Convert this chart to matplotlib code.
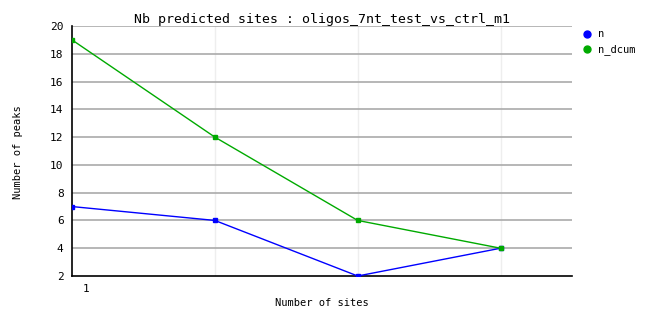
import matplotlib
matplotlib.use("Agg")
import matplotlib.pyplot as plt
import matplotlib.transforms as mtransforms
from matplotlib.lines import Line2D

# data
sites = [1, 2, 3, 4]
n = [7, 6, 2, 4]
n_dcum = [19, 12, 6, 4]
y_ticks = [2, 4, 6, 8, 10, 12, 14, 16, 18, 20]
series_names = ["n", "n_dcum"]
series_colors = ["#0000ff", "#00aa00"]

plt.rcParams['font.family'] = ['DejaVu Sans Mono']

fig = plt.figure(figsize=(6.62, 3.28), dpi=100)
ax = fig.add_axes([72 / 662, 1 - 276 / 328, 500 / 662, 250 / 328])

# grid: horizontal grey, vertical very light
for y in y_ticks[1:]:
    ax.axhline(y, color="#aaaaaa", linewidth=1.2, zorder=1)
for x in sites[1:]:
    ax.axvline(x, color="#eeeeee", linewidth=1, zorder=0)

for vals, name, col in zip([n, n_dcum], series_names, series_colors):
    ax.plot(sites, vals, color=col, linewidth=1, marker="s", markersize=3,
            label=name, zorder=3)

ax.set_xlim(1, 4.5)
ax.set_ylim(2, 20)
ax.set_yticks(y_ticks)
ax.set_xticks([1])
ax.set_xticklabels(["1"])
ax.tick_params(length=0, labelsize=8, pad=6)
offset = mtransforms.ScaledTranslation(14 / 100, 0, fig.dpi_scale_trans)
for lbl in ax.get_xticklabels():
    lbl.set_transform(lbl.get_transform() + offset)

for side in ["top", "right"]:
    ax.spines[side].set_visible(False)
ax.spines["left"].set_linewidth(1.2)
ax.spines["bottom"].set_linewidth(1.2)

ax.set_title("Nb predicted sites : oligos_7nt_test_vs_ctrl_m1", fontsize=9.5, pad=2)
ax.set_xlabel("Number of sites", fontsize=7.5, labelpad=3)
fig.text(18 / 662, 1 - 152 / 328, "Number of peaks", rotation=90,
         fontsize=7.5, ha="center", va="center")

handles = [Line2D([], [], color=c, marker="o", markersize=5, linestyle="none")
           for c in series_colors]
fig.legend(handles, series_names, loc="upper left",
           bbox_to_anchor=(574 / 662, 1 - 20 / 328),
           frameon=False, fontsize=7.5, handlelength=0.6, handletextpad=0.8,
           labelspacing=0.5)

fig.savefig("out.png", dpi=100)
